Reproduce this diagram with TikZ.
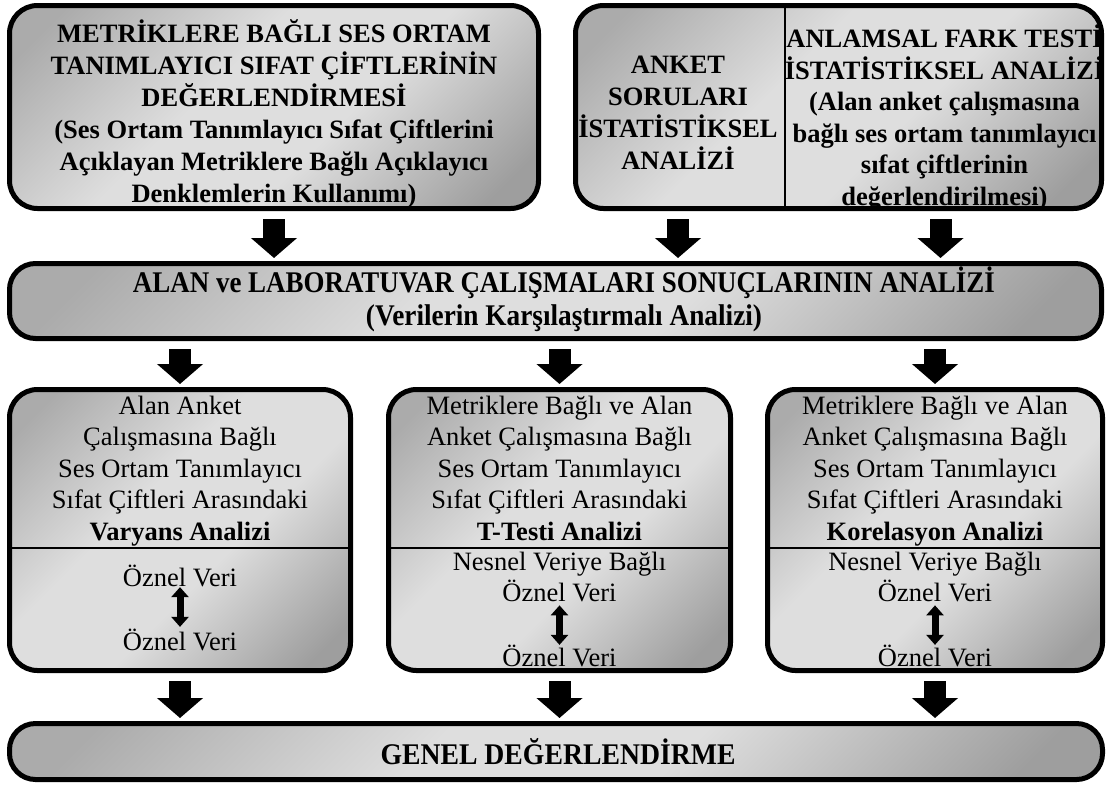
\documentclass[tikz,border=0pt]{standalone}
\usepackage{fontspec}
\usepackage{graphicx}
\setmainfont{Liberation Serif}
\usetikzlibrary{arrows.meta}
\definecolor{shadeDark}{gray}{0.67}
\definecolor{shadeLight}{gray}{0.87}
\definecolor{shadeDeep}{gray}{0.62}
% diagonal panel fill: darker at two opposite corners, light in the middle
\pgfdeclareverticalshading{panel}{100bp}{%
  color(0bp)=(shadeDeep); color(20bp)=(shadeDeep); color(42bp)=(shadeLight);
  color(58bp)=(shadeLight); color(80bp)=(shadeDark); color(100bp)=(shadeDark)}
\begin{document}
\begin{tikzpicture}[x=1pt,y=-1pt,
  box/.style={draw=black, line width=5pt, rounded corners=28pt,
    shade, shading=panel, shading angle=45, inner sep=0pt},
  bar/.style={box, rounded corners=26pt},
  body/.style={align=center, inner sep=0pt, font=\fontsize{26.5}{31.5}\selectfont},
  head/.style={align=center, inner sep=0pt, font=\fontsize{26.5}{32}\selectfont\bfseries},
  narrow/.style={align=center, inner sep=0pt, font=\fontsize{30}{33}\selectfont\bfseries},
  split/.style={draw=black, line width=2.5pt},
  flow/.style={draw=black, line width=22pt, -{Triangle[width=45pt,length=20pt]},
    shorten <=8pt, shorten >=3pt},
  pair/.style={draw=black, line width=7pt,
    {Triangle[width=17pt,length=10pt]}-{Triangle[width=17pt,length=10pt]}}
]
\useasboundingbox (0,0) rectangle (1108,785);

% top row
\node[box, minimum width=529pt, minimum height=203pt] (b1) at (274,107) {};
\node[head] (t1) at (274,114) {METRİKLERE BAĞLI SES ORTAM\\
  TANIMLAYICI SIFAT ÇİFTLERİNİN\\DEĞERLENDİRMESİ\\
  (Ses Ortam Tanımlayıcı Sıfat Çiftlerini\\
  Açıklayan Metriklere Bağlı Açıklayıcı\\Denklemlerin Kullanımı)};

\node[box, minimum width=526pt, minimum height=203pt] (b2) at (838.5,107) {};
\coordinate (dv) at (785,107);
\draw[split] (dv |- b2.north) -- (dv |- b2.south);
\node[head] (c1) at (678,113) {ANKET\\SORULARI\\İSTATİSTİKSEL\\ANALİZİ};
\node[head, font=\fontsize{26.5}{31.6}\selectfont\bfseries] (c2) at (944.5,118)
  {ANLAMSAL FARK TESTİ\\İSTATİSTİKSEL ANALİZİ\\
  (Alan anket çalışmasına\\bağlı ses ortam tanımlayıcı\\sıfat çiftlerinin\\
  değerlendirilmesi)};

% comparison bar
\node[bar, minimum width=1092pt, minimum height=75pt] (mid) at (555.5,301) {};
\node[narrow] (mt) at (564,299.5) {\resizebox{862pt}{\height}{ALAN ve LABORATUVAR ÇALIŞMALARI SONUÇLARININ ANALİZİ}\\
  \resizebox{396pt}{\height}{(Verilerin Karşılaştırmalı Analizi)}};

\draw[flow] (b1.south) -- (b1.south |- mid.north);
\draw[flow] (c1 |- b2.south) -- (c1 |- mid.north);
\draw[flow] ([xshift=-4pt]c2 |- b2.south) -- ([xshift=-4pt]c2 |- mid.north);

% analysis boxes
\node[box, minimum width=341pt, minimum height=281pt] (l1) at (180,530) {};
\node[box, minimum width=342pt, minimum height=281pt] (l2) at (559.5,530) {};
\node[box, minimum width=335pt, minimum height=281pt] (l3) at (935,530) {};
\coordinate (hd) at (0,548);
\foreach \b in {l1,l2,l3}
  \draw[split] (\b.west |- hd) -- (\b.east |- hd);

\node[body, text depth=0pt] (u1) at (180,468) {Alan Anket\\Çalışmasına Bağlı\\Ses Ortam Tanımlayıcı\\
  Sıfat Çiftleri Arasındaki\\\textbf{Varyans Analizi}};
\node[body, text depth=0pt] (u2) at (559.5,468) {Metriklere Bağlı ve Alan\\Anket Çalışmasına Bağlı\\
  Ses Ortam Tanımlayıcı\\Sıfat Çiftleri Arasındaki\\\textbf{T-Testi Analizi}};
\node[body, text depth=0pt] (u3) at (935,468) {Metriklere Bağlı ve Alan\\Anket Çalışmasına Bağlı\\
  Ses Ortam Tanımlayıcı\\Sıfat Çiftleri Arasındaki\\\textbf{Korelasyon Analizi}};

\node[body] (p1) at (180,576) {Öznel Veri};
\node[body] (q1) at (180,640) {Öznel Veri};
\node[body] (p2) at (559.5,577) {Nesnel Veriye Bağlı\\Öznel Veri};
\node[body] (q2) at (559.5,656) {Öznel Veri};
\node[body] (p3) at (935,577) {Nesnel Veriye Bağlı\\Öznel Veri};
\node[body] (q3) at (935,656) {Öznel Veri};
\draw[pair, shorten >=2pt] (p1.south) -- (q1.north);
\draw[pair, shorten <=3pt] (p2.south) -- (q2.north);
\draw[pair, shorten <=3pt] (p3.south) -- (q3.north);

\foreach \b in {l1,l2,l3}
  \draw[flow] (\b.north |- mid.south) -- (\b.north);

% closing bar
\node[bar, minimum width=1093pt, minimum height=56pt] (gen) at (556,751.5) {};
\node[narrow] (gt) at (558,752) {\resizebox{355pt}{\height}{GENEL DEĞERLENDİRME}};
\foreach \b in {l1,l2,l3}
  \draw[flow] (\b.south) -- (\b.south |- gen.north);
\end{tikzpicture}
\end{document}
